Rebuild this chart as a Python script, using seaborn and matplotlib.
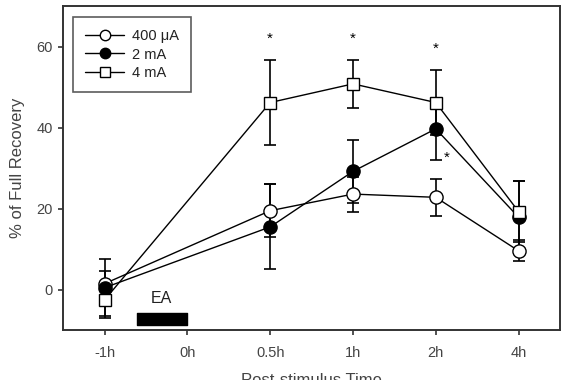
import pandas as pd
import seaborn as sns
import matplotlib.pyplot as plt

# dados
tempos = ['-1h', '0h', '0.5h', '1h', '2h', '4h']
posicoes = [0, 2, 3, 4, 5]
media_400uA = [1.5, 19.5, 23.6, 22.8, 9.6]
erro_400uA = [3.0, 6.5, 4.3, 4.5, 2.6]
media_2mA = [0.5, 15.5, 29.2, 39.7, 17.9]
erro_2mA = [7.0, 10.5, 7.8, 7.7, 9.0]
media_4mA = [-2.5, 46.2, 50.8, 46.2, 19.3]
erro_4mA = [4.5, 10.4, 6.0, 8.0, 7.6]

sns.set_theme(style='ticks')
plt.rcParams['font.family'] = ['Liberation Sans', 'DejaVu Sans']

cinza = '#444444'

series = [
    ('400 μA', media_400uA, erro_400uA, 'o', 'white', 9.5),
    ('2 mA', media_2mA, erro_2mA, 'o', 'black', 9.5),
    ('4 mA', media_4mA, erro_4mA, 's', 'white', 9),
]

fig, ax = plt.subplots(figsize=(5.65, 3.8), dpi=100)

for nome, media, erro, marcador, cor, tam in series:
    df = pd.DataFrame({'x': posicoes, 'y': media, 'e': erro})
    ax.errorbar(df['x'], df['y'], yerr=df['e'], fmt='none', ecolor='black',
                elinewidth=1.2, capsize=4, capthick=1.2, zorder=2)
    sns.lineplot(data=df, x='x', y='y', ax=ax, color='black', linewidth=1,
                 marker=marcador, markersize=tam, markerfacecolor=cor,
                 markeredgecolor='black', markeredgewidth=1, label=nome, zorder=3)

# asteriscos de significancia
for xp, yp in [(2, 62), (3, 62), (4, 59.5), (4.13, 32.5)]:
    ax.text(xp, yp, '*', ha='center', va='center', fontsize=11, color='black')

# barra do estimulo EA
ax.fill_between([0.39, 1.0], -8.6, -5.8, color='black', zorder=3)
ax.text(0.69, -2.2, 'EA', ha='center', va='center', fontsize=11.5, color='#222222')

ax.set_xlim(-0.5, 5.5)
ax.set_ylim(-10, 70)
ax.set_xticks(range(len(tempos)))
ax.set_xticklabels(tempos)
ax.set_yticks([0, 20, 40, 60])
ax.tick_params(labelsize=10.5, length=3.6, width=1.2, color='#333333',
               labelcolor=cinza, direction='out', top=False, right=False)
ax.tick_params(axis='x', pad=8)
ax.tick_params(axis='y', pad=4)
ax.set_xlabel('Post-stimulus Time', fontsize=12, color=cinza, labelpad=9)
ax.set_ylabel('% of Full Recovery', fontsize=12, color=cinza, labelpad=8)
for s in ax.spines.values():
    s.set_linewidth(1.4)
    s.set_color('#333333')

leg = ax.legend(loc='upper left', fontsize=10.5, frameon=True, fancybox=False,
                edgecolor='#333333', handlelength=2.7, borderpad=0.8,
                labelspacing=0.33, handletextpad=0.55, borderaxespad=0,
                bbox_to_anchor=(0.02, 0.966))
leg.get_frame().set_linewidth(1.2)
for t in leg.get_texts():
    t.set_color('#222222')
for h in leg.legend_handles:
    h.set_markersize(7.5)

fig.subplots_adjust(left=0.112, right=0.991, top=0.984, bottom=0.131)
fig.savefig('out.png', dpi=100)
